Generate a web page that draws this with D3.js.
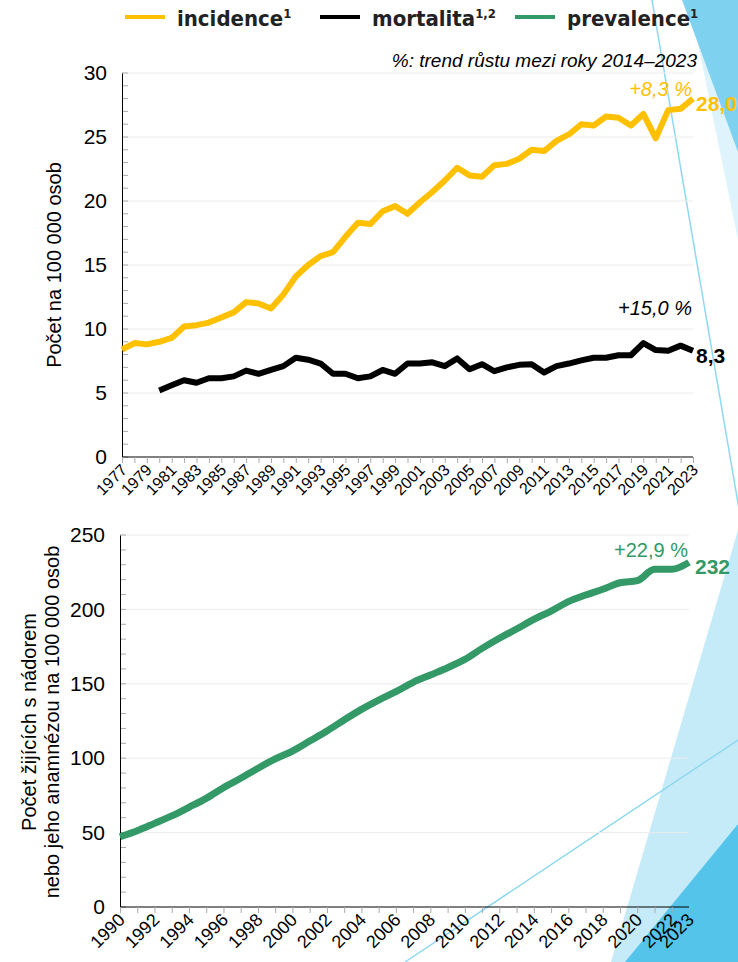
<!DOCTYPE html>
<html>
<head>
<meta charset="utf-8">
<script src="https://cdn.jsdelivr.net/npm/d3@7"></script>
<style>
  body { margin: 0; background: #fff; }
  svg text { font-family: "Liberation Sans", Arial, sans-serif; }
</style>
</head>
<body>
<div id="chart"></div>
<script>
// Width and height
var chart_width  = 738;
var chart_height = 962;

// data
var topYears = d3.range(1977, 2024);
var incidence = [8.4, 8.9, 8.8, 9.0, 9.3, 10.2, 10.3, 10.5, 10.9, 11.3,
  12.1, 12.0, 11.6, 12.7, 14.1, 15.0, 15.7, 16.0, 17.2, 18.3,
  18.2, 19.2, 19.6, 19.0, 19.9, 20.7, 21.6, 22.6, 22.0, 21.9,
  22.8, 22.9, 23.3, 24.0, 23.9, 24.7, 25.2, 26.0, 25.9, 26.6,
  26.5, 25.9, 26.8, 24.9, 27.1, 27.2, 28.0];
var mortYears = d3.range(1980, 2024);
var mortality = [5.2, 5.6, 6.0, 5.8, 6.15, 6.15, 6.3, 6.75, 6.5, 6.8,
  7.1, 7.75, 7.6, 7.3, 6.5, 6.5, 6.15, 6.3, 6.8, 6.5,
  7.3, 7.3, 7.4, 7.1, 7.7, 6.85, 7.25, 6.7, 7.0, 7.2,
  7.25, 6.6, 7.1, 7.3, 7.55, 7.75, 7.75, 7.95, 7.95, 8.9,
  8.35, 8.3, 8.7, 8.3];
var prevYears = d3.range(1990, 2024);
var prevalence = [47.2, 51.3, 56.2, 61.2, 67.0, 73.0, 80.2, 86.5, 93.2, 99.5,
  104.8, 111.5, 118.3, 125.7, 132.8, 139.1, 144.7, 151.0, 155.9, 160.8,
  166.4, 173.8, 180.6, 186.8, 193.3, 198.9, 205.2, 209.7, 213.5, 217.9,
  219.3, 226.9, 226.9, 231.6];

var topTickYears = d3.range(1977, 2024, 2);
var bottomTickYears = d3.range(1990, 2023, 2).concat([2023]);
var topYTicks = [0, 5, 10, 15, 20, 25, 30];
var bottomYTicks = [0, 50, 100, 150, 200, 250];

var legendItems = [
  {name: "incidence", sup: "1", color: "#ffc000"},
  {name: "mortalita", sup: "1,2", color: "#000000"},
  {name: "prevalence", sup: "1", color: "#339966"}
];

var svg = d3.select("#chart")
  .append("svg")
  .attr("width", chart_width)
  .attr("height", chart_height);

// decorative shapes in the background
var deco = svg.append("g");
deco.append("polygon").attr("points", "689,0 738,0 738,240").attr("fill", "#def3fb");
deco.append("polygon").attr("points", "682,0 738,0 738,152").attr("fill", "#7fd2ef");
deco.append("line").attr("x1", 652).attr("y1", 0).attr("x2", 740).attr("y2", 515)
  .attr("stroke", "#8fd8f2").attr("stroke-width", 1.5);
deco.append("polygon").attr("points", "611,962 738,530 738,962").attr("fill", "#c5ebf8");
deco.append("polygon").attr("points", "625,962 738,824 738,962").attr("fill", "#55c4ea");
deco.append("line").attr("x1", 405).attr("y1", 962).attr("x2", 738).attr("y2", 740)
  .attr("stroke", "#8fd8f2").attr("stroke-width", 1.5);

// legend
var legendX = [125, 320, 515];
legendItems.forEach(function(d, i) {
  var g = svg.append("g").attr("transform", "translate(" + legendX[i] + ",0)");
  g.append("line").attr("x1", 0).attr("x2", 40).attr("y1", 17).attr("y2", 17)
    .attr("stroke", d.color).attr("stroke-width", 4);
  var t = g.append("text").attr("x", 52).attr("y", 26)
    .style("font-family", "'DejaVu Sans Condensed', 'DejaVu Sans', sans-serif")
    .style("font-stretch", "condensed")
    .style("font-weight", "bold").style("font-size", "22px").attr("fill", "#222");
  t.append("tspan").text(d.name);
  t.append("tspan").attr("dy", -8).style("font-size", "13px").text(d.sup);
});

svg.append("text").attr("x", 697).attr("y", 67).attr("text-anchor", "end")
  .style("font-size", "19px").style("font-style", "italic")
  .text("%: trend růstu mezi roky 2014–2023");

function drawPanel(opt) {
  var x = d3.scaleLinear().domain(opt.xDomain).range(opt.xRange);
  var y = d3.scaleLinear().domain(opt.yDomain).range(opt.yRange);
  var g = svg.append("g");

  // gridlines
  g.selectAll(".grid").data(opt.yTicks.slice(1)).enter().append("line")
    .attr("x1", opt.xRange[0]).attr("x2", opt.xRange[1])
    .attr("y1", function(d) { return y(d); }).attr("y2", function(d) { return y(d); })
    .attr("stroke", "#ececec").attr("stroke-width", 1);

  // minor y ticks inside the plot
  g.selectAll(".minor").data(d3.range(opt.yDomain[0], opt.yDomain[1] + 0.001, opt.minorStep)).enter()
    .append("line")
    .attr("x1", opt.xRange[0]).attr("x2", opt.xRange[0] + 6)
    .attr("y1", function(d) { return y(d); }).attr("y2", function(d) { return y(d); })
    .attr("stroke", "#aaa").attr("stroke-width", 1);

  // y axis
  var yAxis = g.append("g").attr("transform", "translate(" + opt.xRange[0] + ",0)")
    .call(d3.axisLeft(y).tickValues(opt.yTicks).tickSize(0).tickPadding(15));
  yAxis.select(".domain").attr("stroke", "#000");
  yAxis.selectAll("text").style("font-size", "21px").style("font-family", "'Liberation Sans', Arial, sans-serif")
    .attr("fill", "#000");

  // x axis: year ticks every year, labels rotated
  var xAxis = g.append("g").attr("transform", "translate(0," + opt.yRange[0] + ")")
    .call(d3.axisBottom(x).tickValues(opt.years).tickSize(6).tickFormat(""));
  xAxis.selectAll(".tick line").attr("stroke", "#aaa");
  xAxis.select(".domain").attr("stroke", "#000").attr("d",
    "M" + opt.xRange[0] + ",0H" + opt.xRange[1]);

  g.selectAll(".xlab").data(opt.xLabels).enter().append("text")
    .attr("text-anchor", "end")
    .attr("transform", function(d) {
      return "translate(" + (x(d) + opt.labelDx) + "," + (opt.yRange[0] + opt.labelDy) + ") rotate(-45)";
    })
    .style("font-size", opt.labelSize)
    .text(function(d) { return d; });

  // y axis title
  var yt = g.append("text")
    .attr("transform", "translate(" + opt.titleX + "," + opt.titleY + ") rotate(-90)")
    .attr("text-anchor", "middle").style("font-size", "20px");
  opt.title.forEach(function(line, i) {
    yt.append("tspan").attr("x", 0).attr("dy", i === 0 ? 0 : 23).text(line);
  });

  // series lines
  var line = d3.line().x(function(d) { return x(d[0]); }).y(function(d) { return y(d[1]); })
    .curve(opt.curve || d3.curveLinear);
  opt.series.forEach(function(s) {
    g.append("path").datum(d3.zip(s.years, s.values))
      .attr("d", line).attr("fill", "none")
      .attr("stroke", s.color).attr("stroke-width", s.width)
      .attr("stroke-linejoin", "round").attr("stroke-linecap", "butt");
    var lastX = x(s.years[s.years.length - 1]);
    var lastY = y(s.values[s.values.length - 1]);
    g.append("text").attr("x", lastX + opt.endDx).attr("y", lastY + 12)
      .style("font-size", "21px").style("font-weight", "bold").attr("fill", s.color)
      .text(s.endLabel);
    g.append("text").attr("x", lastX - 1).attr("y", y(s.trendAt))
      .attr("text-anchor", "end").style("font-size", "20px")
      .style("font-style", s.italic ? "italic" : "normal").attr("fill", s.color)
      .text(s.trend);
  });
}

drawPanel({
  xDomain: [1977, 2023], xRange: [122, 693],
  yDomain: [0, 30], yRange: [457, 73],
  yTicks: topYTicks, minorStep: 1,
  years: topYears, xLabels: topTickYears,
  labelDx: 6, labelDy: 14, labelSize: "16px",
  title: ["Počet na 100 000 osob"], titleX: 61, titleY: 265,
  endDx: 3,
  series: [
    {years: topYears, values: incidence, color: "#ffc000", width: 6, endLabel: "28,0",
      trend: "+8,3 %", trendAt: 28.2, italic: true},
    {years: mortYears, values: mortality, color: "#000", width: 6, endLabel: "8,3",
      trend: "+15,0 %", trendAt: 11.1, italic: true}
  ]
});

drawPanel({
  xDomain: [1990, 2023], xRange: [120, 689],
  yDomain: [0, 250], yRange: [907, 535],
  yTicks: bottomYTicks, minorStep: 10,
  years: prevYears, xLabels: bottomTickYears,
  labelDx: 6, labelDy: 14, labelSize: "18px",
  title: ["Počet žijících s nádorem", "nebo jeho anamnézou na 100 000 osob"],
  titleX: 36, titleY: 722,
  endDx: 6,
  curve: d3.curveMonotoneX,
  series: [
    {years: prevYears, values: prevalence, color: "#339966", width: 7, endLabel: "232",
      trend: "+22,9 %", trendAt: 235, italic: false}
  ]
});
</script>
</body>
</html>
